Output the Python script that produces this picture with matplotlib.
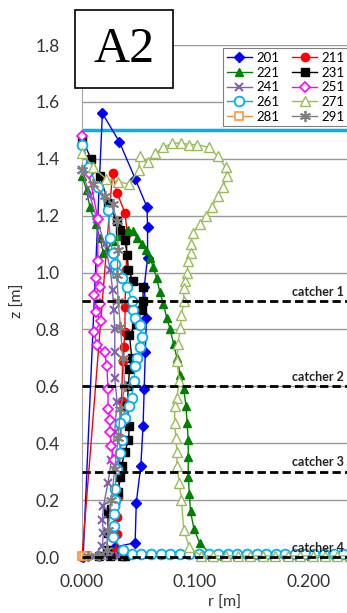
import matplotlib
matplotlib.use("Agg")
import matplotlib.pyplot as plt
from matplotlib.patches import Rectangle

# trajectories, r [m] and z [m]
r201 = [0.001, 0.018, 0.033, 0.047, 0.0575, 0.058, 0.058, 0.055, 0.057, 0.056, 0.055, 0.054, 0.052, 0.048, 0.047, 0.029]
z201 = [0.0, 1.56, 1.46, 1.33, 1.23, 1.16, 1.05, 0.95, 0.84, 0.72, 0.59, 0.46, 0.32, 0.19, 0.05, 0.035]

r211 = [0.0, 0.027, 0.031, 0.038, 0.040, 0.039, 0.038, 0.038, 0.037, 0.036, 0.035, 0.034, 0.033, 0.032, 0.031, 0.031, 0.030]
z211 = [0.0, 1.35, 1.28, 1.21, 1.14, 1.01, 0.88, 0.79, 0.74, 0.69, 0.55, 0.42, 0.30, 0.21, 0.14, 0.08, 0.02]

r221 = [0.0, 0.004, 0.007, 0.012, 0.016, 0.019, 0.022, 0.027, 0.032, 0.037, 0.041, 0.045, 0.049, 0.053, 0.057,
        0.060, 0.063, 0.066, 0.069, 0.072, 0.075, 0.078, 0.081, 0.084, 0.087, 0.090, 0.092, 0.093, 0.094, 0.094,
        0.094, 0.095, 0.096, 0.099, 0.104, 0.115, 0.126, 0.137, 0.148, 0.159, 0.170, 0.181, 0.192, 0.203,
        0.214, 0.225, 0.236, 0.247]
z221 = [1.34, 1.29, 1.23, 1.17, 1.12, 1.07, 1.08, 1.11, 1.13, 1.14, 1.15, 1.145, 1.12, 1.10, 1.08,
        1.05, 1.02, 0.98, 0.93, 0.89, 0.84, 0.80, 0.75, 0.70, 0.64, 0.59, 0.53, 0.47, 0.41, 0.35,
        0.28, 0.22, 0.16, 0.10, 0.05, 0.005, 0.003, 0.003, 0.002, 0.002, 0.002, 0.002, 0.002, 0.002,
        0.002, 0.002, 0.002, 0.002]

r231 = [0.0, 0.008, 0.016, 0.023, 0.031, 0.034, 0.038, 0.040, 0.041, 0.045, 0.054, 0.054, 0.053, 0.048, 0.042,
        0.044, 0.042, 0.041, 0.040, 0.042, 0.041, 0.038, 0.035, 0.034, 0.032, 0.029, 0.026, 0.023, 0.023,
        0.022, 0.015, 0.025, 0.035, 0.038]
z231 = [1.47, 1.40, 1.34, 1.245, 1.18, 1.15, 1.115, 1.06, 1.01, 0.97, 0.95, 0.90, 0.87, 0.82, 0.78,
        0.70, 0.66, 0.60, 0.53, 0.46, 0.41, 0.37, 0.32, 0.28, 0.23, 0.19, 0.17, 0.155, 0.085,
        0.025, 0.002, 0.002, 0.002, 0.002]

r241 = [0.0, 0.007, 0.013, 0.020, 0.025, 0.027, 0.028, 0.029, 0.029, 0.029, 0.031, 0.029, 0.026, 0.023,
        0.019, 0.018, 0.019, 0.018, 0.011, 0.004, 0.016, 0.025, 0.033]
z241 = [1.36, 1.27, 1.19, 1.10, 1.01, 0.94, 0.87, 0.80, 0.72, 0.63, 0.545, 0.44, 0.34, 0.26,
        0.18, 0.13, 0.085, 0.04, 0.005, 0.002, 0.004, 0.003, 0.002]

r251 = [0.0, 0.006, 0.014, 0.014, 0.012, 0.016, 0.011, 0.016, 0.012, 0.017, 0.011, 0.013, 0.020, 0.022,
        0.023, 0.023, 0.025, 0.025, 0.026, 0.028]
z251 = [1.48, 1.35, 1.19, 1.04, 0.98, 0.95, 0.92, 0.89, 0.86, 0.83, 0.79, 0.745, 0.72, 0.67,
        0.59, 0.52, 0.48, 0.44, 0.39, 0.34]

r261 = [0.0, 0.006, 0.014, 0.023, 0.025, 0.027, 0.029, 0.031, 0.035, 0.040, 0.044, 0.045, 0.047, 0.051,
        0.053, 0.051, 0.049, 0.047, 0.046, 0.044, 0.042, 0.038, 0.034, 0.035, 0.034, 0.031, 0.029, 0.029,
        0.028, 0.028, 0.028, 0.027, 0.036, 0.044, 0.0525, 0.061, 0.0695, 0.078, 0.0865, 0.095, 0.1035,
        0.112, 0.1205, 0.129, 0.1375, 0.146, 0.1545, 0.163, 0.1715, 0.180, 0.1885, 0.197, 0.2055, 0.214,
        0.2225, 0.231, 0.2395]
z261 = [1.45, 1.37, 1.30, 1.22, 1.12, 1.07, 1.03, 1.0, 0.98, 0.95, 0.90, 0.87, 0.84, 0.815,
        0.775, 0.74, 0.70, 0.67, 0.62, 0.56, 0.53, 0.49, 0.47, 0.41, 0.365, 0.31, 0.24, 0.20,
        0.18, 0.15, 0.11, 0.07, 0.025, 0.012, 0.010, 0.010, 0.009, 0.009, 0.009, 0.009, 0.009,
        0.009, 0.009, 0.009, 0.009, 0.009, 0.009, 0.009, 0.009, 0.009, 0.009, 0.009, 0.009, 0.009,
        0.009, 0.009, 0.009]

r271 = [0.0, 0.010, 0.021, 0.032, 0.042, 0.050, 0.051, 0.058, 0.065, 0.072, 0.080, 0.088, 0.095, 0.102,
        0.112, 0.120, 0.127, 0.128, 0.125, 0.120, 0.115, 0.110, 0.104, 0.098, 0.096, 0.096, 0.094, 0.093,
        0.091, 0.090, 0.090, 0.088, 0.087, 0.085, 0.084, 0.086, 0.084, 0.082, 0.082, 0.083, 0.084, 0.084,
        0.086, 0.088, 0.090, 0.095, 0.105, 0.116, 0.127, 0.138, 0.149, 0.160, 0.171, 0.182, 0.193, 0.204,
        0.215, 0.226, 0.237, 0.248]
z271 = [1.42, 1.37, 1.33, 1.32, 1.31, 1.36, 1.41, 1.39, 1.42, 1.44, 1.455, 1.455, 1.45, 1.45,
        1.44, 1.41, 1.37, 1.34, 1.30, 1.27, 1.23, 1.20, 1.17, 1.14, 1.10, 1.07, 1.04, 1.00,
        0.97, 0.945, 0.90, 0.85, 0.805, 0.75, 0.69, 0.62, 0.56, 0.53, 0.47, 0.42, 0.37, 0.32,
        0.26, 0.20, 0.095, 0.035, 0.005, 0.004, 0.004, 0.004, 0.004, 0.004, 0.004, 0.004, 0.004, 0.004,
        0.004, 0.004, 0.004, 0.004]

r281 = [0.0, 0.002, 0.004]
z281 = [0.004, 0.004, 0.003]

r291 = [0.0, 0.01, 0.02, 0.027, 0.031, 0.032, 0.031, 0.032, 0.034, 0.036, 0.038, 0.034, 0.032, 0.029,
        0.026, 0.023, 0.022, 0.015, 0.005]
z291 = [1.36, 1.31, 1.27, 1.24, 1.18, 1.08, 0.99, 0.90, 0.81, 0.70, 0.60, 0.52, 0.42, 0.31,
        0.20, 0.095, 0.025, 0.005, 0.002]

catcher_z = [0.9, 0.6, 0.3, 0.0]
catcher_names = ["catcher 1", "catcher 2", "catcher 3", "catcher 4"]
top_line_z = 1.5

fig = plt.figure(figsize=(3.47, 6.13), dpi=100)
W, H = 347, 613
# axes runs past the right edge of the picture (it's cropped there)
ax = fig.add_axes([82 / W, (H - 557) / H, (368 - 82) / W, 512 / H])

ax.set_xlim(0, 0.253)
ax.set_ylim(0, 1.8)
ax.set_yticks([0, 0.2, 0.4, 0.6, 0.8, 1.0, 1.2, 1.4, 1.6, 1.8])
ax.set_xticks([0, 0.1, 0.2])
ax.set_xticklabels(["0.000", "0.100", "0.200"])
ax.set_yticklabels(["%.1f" % v for v in ax.get_yticks()])
ax.tick_params(length=0, labelsize=12.5, colors="#333333")
ax.tick_params(axis="y", pad=16)
ax.tick_params(axis="x", pad=12)
for lab in ax.get_xticklabels() + ax.get_yticklabels():
    lab.set_family("Lato")

for s in ["top", "right", "bottom"]:
    ax.spines[s].set_visible(False)
ax.spines["left"].set_color("#A6A6A6")
ax.yaxis.grid(True, color="#999999", lw=1)
ax.set_axisbelow(True)

ax.axhline(top_line_z, color="#00B0F0", lw=2.5, zorder=1)

series = [
    ("201", r201, z201, dict(color="#0000FF", marker="D", ms=5, mfc="#0000FF")),
    ("211", r211, z211, dict(color="#FF0000", marker="o", ms=6, mfc="#FF0000")),
    ("221", r221, z221, dict(color="#008000", marker="^", ms=6, mfc="#008000")),
    ("231", r231, z231, dict(color="#000000", marker="s", ms=6, mfc="#000000")),
    ("241", r241, z241, dict(color="#7F60B5", marker="x", ms=6, mew=1.5)),
    ("251", r251, z251, dict(color="#FF00FF", marker="D", ms=5, mfc="white", mew=1.2)),
    ("261", r261, z261, dict(color="#00B0F0", marker="o", ms=7, mfc="white", mew=1.3)),
    ("271", r271, z271, dict(color="#9BBB59", marker="^", ms=7.5, mfc="white", mew=1.0)),
    ("281", r281, z281, dict(color="#F79646", marker="s", ms=6, mfc="white", mew=1.2)),
    ("291", r291, z291, dict(color="#808080", marker=(6, 2, 0), ms=8, mew=1.3)),
]
handles = []
for name, r, z, st in series:
    h, = ax.plot(r, z, lw=1, label=name, clip_on=False, zorder=3, **st)
    handles.append(h)

for cz, cn in zip(catcher_z, catcher_names):
    ax.axhline(cz, color="black", lw=2, ls=(0, (3, 1.5)), zorder=4, clip_on=False)
    ax.text(0.2318, cz + 0.012, cn, ha="right", va="bottom", fontsize=9,
            fontweight="bold", family="Lato", color="#222222", zorder=5)

ax.set_ylabel("z [m]", fontsize=11.5, family="Lato", color="#333333", labelpad=8)
fig.text(225 / W, 1 - 603 / H, "r [m]", ha="center", va="center", fontsize=11.5,
         family="Lato", color="#333333")

# legend is filled row by row, so reorder for matplotlib's column filling
order = [0, 2, 4, 6, 8, 1, 3, 5, 7, 9]
leg = ax.legend([handles[i] for i in order], [series[i][0] for i in order],
                ncol=2, loc="upper left", bbox_to_anchor=(223 / W, 1 - 48 / H),
                bbox_transform=fig.transFigure, fontsize=9.5, frameon=True,
                fancybox=False, edgecolor="#808080", framealpha=1,
                labelspacing=0.2, handlelength=1.9, handletextpad=0.3,
                columnspacing=1.0, borderpad=0.3, borderaxespad=0)
leg.get_frame().set_linewidth(0.8)
for t in leg.get_texts():
    t.set_family("Lato")
leg.set_zorder(10)

# A2 tag
fig.patches.append(Rectangle((75 / W, 1 - 88 / H), 98 / W, 78 / H, transform=fig.transFigure,
                             facecolor="white", edgecolor="black", lw=1.2, zorder=20))
fig.text(124 / W, 1 - 50 / H, "A2", ha="center", va="center", fontsize=36,
         family="Liberation Serif", zorder=21)

fig.savefig("out.png", dpi=100)
